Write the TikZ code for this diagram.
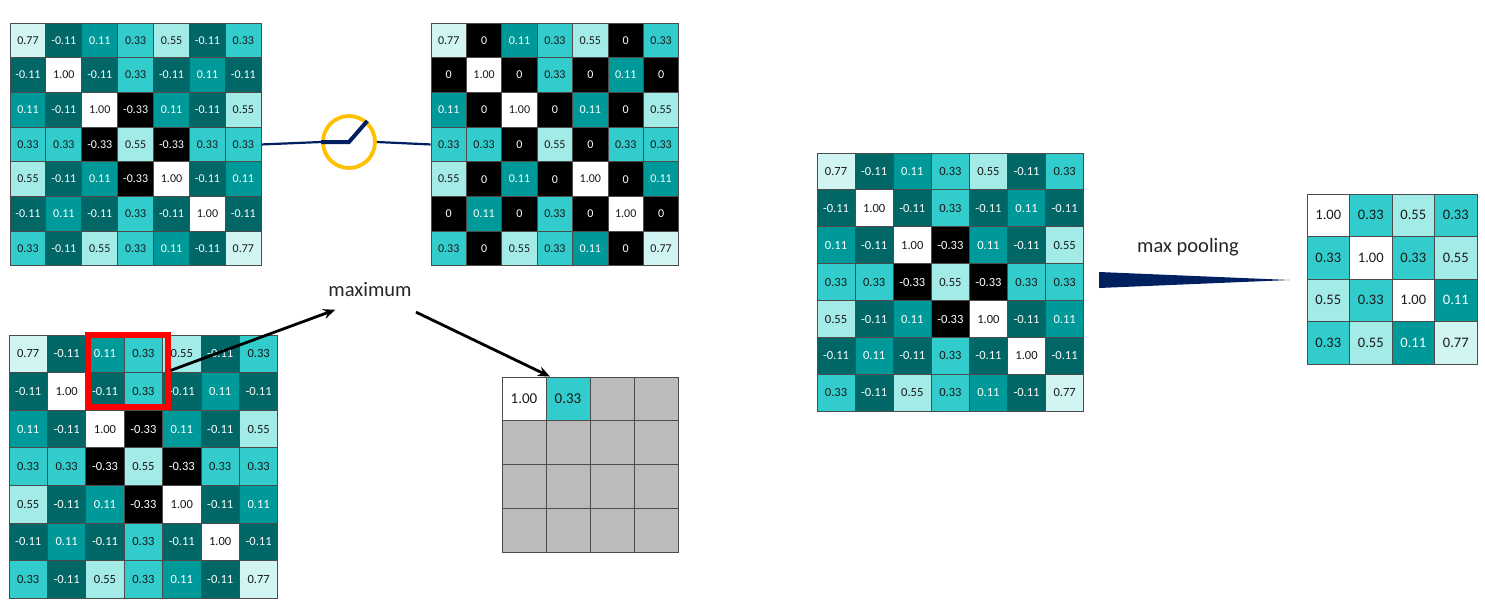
\documentclass[tikz,border=0pt]{standalone}
\usepackage{fontspec}
\setmainfont{Carlito}
\usepackage{tikz}
\usepackage{xcolor}
\usetikzlibrary{arrows.meta, positioning}

\definecolor{cellpale}{HTML}{D0F5F3}
\definecolor{celllight}{HTML}{A3EBE7}
\definecolor{cellmid}{HTML}{33CCCC}
\definecolor{celldeep}{HTML}{009999}
\definecolor{celldark}{HTML}{006666}
\definecolor{cellgray}{HTML}{BBBBBB}
\definecolor{navyline}{HTML}{002060}
\definecolor{dialring}{HTML}{FFC000}

\tikzset{
    cell/.style={draw=black!70, line width=0.9pt, inner sep=0pt, text=black!90},
    val 0.77/.style={fill=cellpale},
    val 0.55/.style={fill=celllight},
    val 0.33/.style={fill=cellmid},
    val 0.11/.style={fill=celldeep, text=white!90!cellpale},
    val -0.11/.style={fill=celldark, text=white!90!cellpale},
    val -0.33/.style={fill=black, text=white},
    val 0/.style={fill=black, text=white},
    val 1.00/.style={fill=white},
    cable/.style={navyline, line width=2.2pt},
    pointer/.style={-{Stealth[length=12pt, width=10pt]}, black, line width=2.8pt},
    caption/.style={text=black!85, font=\fontsize{20.5}{20.5}\selectfont}
}

% One grid: name, left, top, cell width, cell height, font size, rows
\newcommand{\cellgrid}[7]{
    \foreach \row [count=\j] in #7 {
        \foreach \v [count=\i] in \row {
            \node[cell, val \v, minimum width=#4pt, minimum height=#5pt,
                font=\fontsize{#6}{#6}\selectfont]
                (#1-\j-\i) at ({#2+(\i-0.5)*#4},{#3+(\j-0.5)*#5}) {\v};
        }
    }
}

\def\featurerows{{0.77,-0.11,0.11,0.33,0.55,-0.11,0.33},
    {-0.11,1.00,-0.11,0.33,-0.11,0.11,-0.11},
    {0.11,-0.11,1.00,-0.33,0.11,-0.11,0.55},
    {0.33,0.33,-0.33,0.55,-0.33,0.33,0.33},
    {0.55,-0.11,0.11,-0.33,1.00,-0.11,0.11},
    {-0.11,0.11,-0.11,0.33,-0.11,1.00,-0.11},
    {0.33,-0.11,0.55,0.33,0.11,-0.11,0.77}}
\def\rectifiedrows{{0.77,0,0.11,0.33,0.55,0,0.33},
    {0,1.00,0,0.33,0,0.11,0},
    {0.11,0,1.00,0,0.11,0,0.55},
    {0.33,0.33,0,0.55,0,0.33,0.33},
    {0.55,0,0.11,0,1.00,0,0.11},
    {0,0.11,0,0.33,0,1.00,0},
    {0.33,0,0.55,0.33,0.11,0,0.77}}
\def\pooledrows{{1.00,0.33,0.55,0.33},
    {0.33,1.00,0.33,0.55},
    {0.55,0.33,1.00,0.11},
    {0.33,0.55,0.11,0.77}}

\begin{document}
\begin{tikzpicture}[x=1pt, y=-1pt]
    \useasboundingbox (0,0) rectangle (1485,605);

    % Feature maps
    \cellgrid{input}{10}{23}{35.9}{34.7}{12}{\featurerows}
    \cellgrid{rect}{431}{23}{35.4}{34.7}{12}{\rectifiedrows}
    \cellgrid{scan}{9}{335}{38.4}{37.6}{12.5}{\featurerows}
    \cellgrid{full}{817}{153}{38.1}{36.9}{12.5}{\featurerows}
    \cellgrid{pooled}{1307}{194}{42.5}{42.5}{14.5}{\pooledrows}

    % Partly filled result
    \foreach \j in {1,...,4} {
        \foreach \i in {1,...,4} {
            \node[cell, fill=cellgray, minimum width=44pt, minimum height=43.75pt]
                (out-\j-\i) at ({502+(\i-0.5)*44},{377+(\j-0.5)*43.75}) {};
        }
    }
    \node[cell, val 1.00, minimum width=44pt, minimum height=43.75pt,
        font=\fontsize{15}{15}\selectfont] (out-first) at (out-1-1) {1.00};
    \node[cell, val 0.33, minimum width=44pt, minimum height=43.75pt,
        font=\fontsize{15}{15}\selectfont] (out-second) at (out-1-2) {0.33};

    % Rectifier
    \node[circle, draw=dialring, line width=3.8pt, minimum size=52pt, inner sep=0pt]
        (dial) at (349,142) {};
    \draw[cable] (input-4-7.east) -- (dial.west);
    \draw[cable] (dial.east) -- (rect-4-1.west);
    \draw[navyline, line width=4pt] (dial.west) -- (dial.center) -- (dial.49);

    % Sliding window
    \node[draw=red, line width=6pt, minimum width=80pt, minimum height=72pt, inner sep=0pt]
        (window) at (127.5,370.5) {};

    % Maximum step
    \node[caption] (maxlabel) at (370,290) {maximum};
    \draw[pointer, shorten >=37pt] (window.east) -- (maxlabel.base);
    \draw[pointer, shorten <=51pt] (maxlabel.center) -- (out-second.129);

    % Max pooling wedge
    \node[caption] (poollabel) at (1188,247) {max pooling};
    \fill[navyline] (1099,272) -- (1099,288) -- (1290,280) -- cycle;
\end{tikzpicture}
\end{document}
